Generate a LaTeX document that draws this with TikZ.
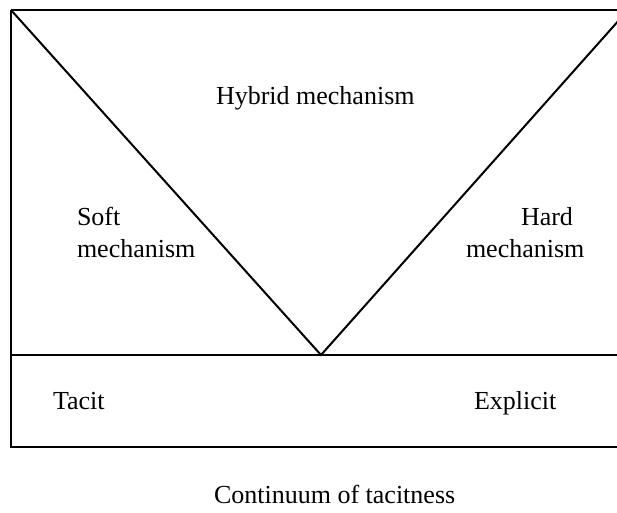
\documentclass[tikz,border=0pt]{standalone}
\usepackage{fontspec}
\setmainfont{Liberation Serif}
\begin{document}
\begin{tikzpicture}[x=1pt, y=-1pt, line width=2pt, line join=miter,
	every node/.style={inner sep=0pt, font=\fontsize{26}{32}\selectfont},
	lbl/.style={anchor=base west, align=left}]
	\useasboundingbox (0,0) rectangle (617,512);
	\clip (0,0) rectangle (617,512);
	% frame and axis
	\coordinate (tl) at (11,10);
	\coordinate (tr) at (640,10);
	\coordinate (ml) at (11,355);
	\coordinate (mr) at (640,355);
	\coordinate (bl) at (11,447);
	\coordinate (br) at (640,447);
	\coordinate (tip) at (321,355);
	\coordinate (vr) at (628,10);
	\draw (tl) -- (tr);
	\draw (tl) -- (bl) -- (br);
	\draw (ml) -- (mr);
	\draw (tl) -- (tip) -- (vr);
	% labels
	\node[lbl] (hybrid) at (215,104) {Hybrid mechanism};
	\node[lbl] (soft) at (76,257) {Soft\\mechanism};
	\node[lbl] (hard) at (465,257) {\hspace*{55pt}Hard\\mechanism};
	\node[lbl] (tacit) at (52,409) {Tacit};
	\node[lbl] (explicit) at (473,409) {Explicit};
	\node[lbl] (continuum) at (213,503) {Continuum of tacitness};
\end{tikzpicture}
\end{document}
